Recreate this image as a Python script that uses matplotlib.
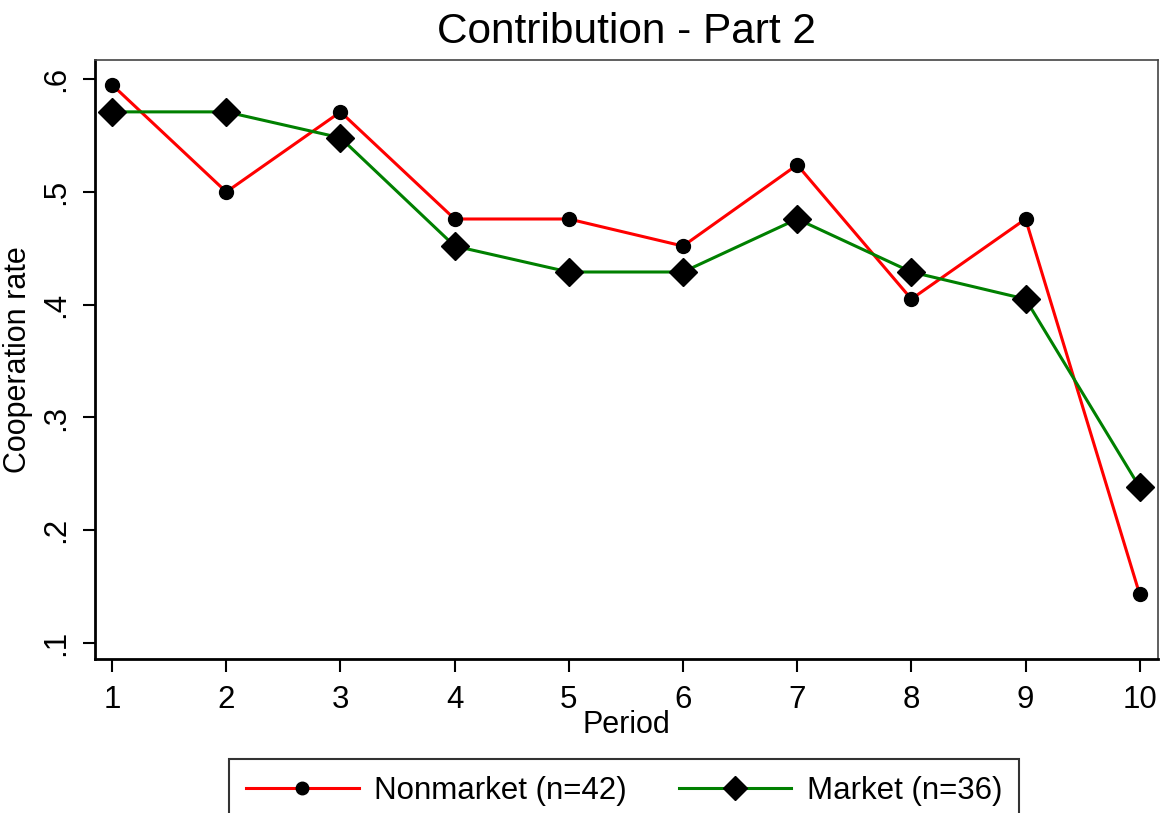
import matplotlib
matplotlib.use("Agg")
import matplotlib.pyplot as plt

plt.rcParams['font.family'] = ['Liberation Sans', 'DejaVu Sans']

periods = [1, 2, 3, 4, 5, 6, 7, 8, 9, 10]
nonmarket = [0.595, 0.500, 0.571, 0.476, 0.476, 0.452, 0.524, 0.405, 0.476, 0.143]
market = [0.571, 0.571, 0.548, 0.452, 0.429, 0.429, 0.476, 0.429, 0.405, 0.238]
yticks = [0.1, 0.2, 0.3, 0.4, 0.5, 0.6]
ytick_labels = ['.1', '.2', '.3', '.4', '.5', '.6']

fig = plt.figure(figsize=(11.62, 8.13), dpi=100)
ax = fig.add_axes([95/1162, 1-659/813, (1158-95)/1162, (659-60)/813])

ax.plot(periods, nonmarket, color='red', lw=2.2, marker='o', ms=10,
        mfc='black', mec='black', label='Nonmarket (n=42)', zorder=3)
ax.plot(periods, market, color='green', lw=2.2, marker='D', ms=14,
        mfc='black', mec='black', label='Market (n=36)', zorder=3)

ax.set_xlim(0.85, 10.16)
ax.set_ylim(0.0858, 0.617)
ax.set_xticks(periods)
ax.set_yticks(yticks)
ax.set_yticklabels(ytick_labels, rotation=90, va='center')
ax.tick_params(axis='both', labelsize=22.5, length=9, width=1.5, color='black')
ax.tick_params(axis='y', pad=8)
ax.tick_params(axis='x', pad=10)

for s in ['left', 'bottom']:
    ax.spines[s].set_linewidth(2)
    ax.spines[s].set_color('black')
for s in ['top', 'right']:
    ax.spines[s].set_linewidth(1.2)
    ax.spines[s].set_color('#444444')

ax.set_title('Contribution - Part 2', fontsize=30.5, pad=12)
ax.set_xlabel('Period', fontsize=22, labelpad=-4)
ax.set_ylabel('Cooperation rate', fontsize=22, labelpad=6)

leg = fig.legend(loc='upper left', bbox_to_anchor=(229/1162, 1-759/813),
                 ncol=2, fontsize=22.5, frameon=True, fancybox=False,
                 borderaxespad=0, borderpad=0.55, handlelength=3.6,
                 handletextpad=0.5, columnspacing=1.65, markerscale=0.9)
leg.get_frame().set_edgecolor('black')
leg.get_frame().set_linewidth(1.5)

fig.savefig('out.png', dpi=100)
